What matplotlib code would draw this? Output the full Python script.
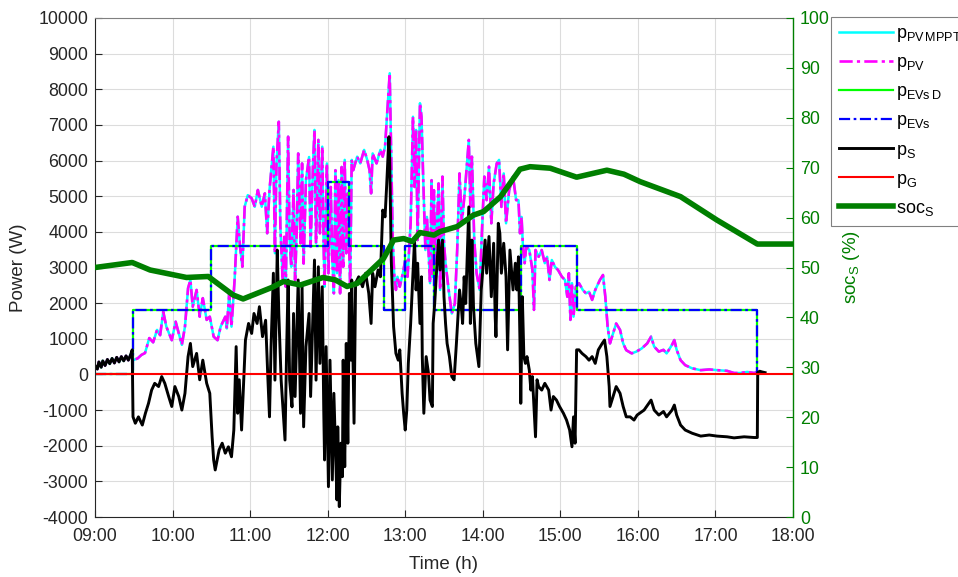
import matplotlib
matplotlib.use("Agg")
import matplotlib.pyplot as plt
from matplotlib.ticker import FixedLocator

plt.rcParams['font.family'] = ['Liberation Sans', 'DejaVu Sans']
plt.rcParams['mathtext.fontset'] = 'custom'
plt.rcParams['mathtext.rm'] = 'Liberation Sans'
plt.rcParams['mathtext.it'] = 'Liberation Sans'
plt.rcParams['mathtext.default'] = 'regular'
plt.rcParams['axes.unicode_minus'] = False

# ---------------- data (time in decimal hours) ----------------
pv_pts = [(9.00, 250), (9.03, 150), (9.05, 350), (9.08, 200), (9.10, 380), (9.13, 250), (9.16, 420),
          (9.19, 300), (9.22, 450), (9.25, 320), (9.28, 480), (9.31, 350), (9.34, 500), (9.37, 380),
          (9.40, 520), (9.43, 400), (9.46, 560), (9.48, 500), (9.49, 400), (9.55, 450), (9.60, 550),
          (9.645, 600), (9.70, 1020), (9.75, 900), (9.80, 1250), (9.84, 1100), (9.88, 1760), (9.92, 1340),
          (9.99, 960), (10.04, 1480), (10.12, 830), (10.16, 1340), (10.20, 2420), (10.23, 2650), (10.26, 1900),
          (10.31, 2370), (10.35, 1620), (10.39, 2140), (10.44, 1530), (10.48, 1620), (10.53, 1060), (10.58, 960),
          (10.62, 1340), (10.68, 1620), (10.70, 1290), (10.73, 2275), (10.76, 1340), (10.80, 2650), (10.84, 4425),
          (10.87, 3585), (10.90, 3020), (10.93, 4705), (10.97, 5030), (11.02, 4940), (11.06, 4705), (11.10, 5175),
          (11.15, 4705), (11.19, 5080), (11.22, 3960), (11.25, 5175), (11.30, 6390), (11.32, 3400), (11.34, 5920),
          (11.37, 7090), (11.39, 4140), (11.42, 2650), (11.44, 3860), (11.46, 2460), (11.49, 6670), (11.51, 3770),
          (11.53, 3020), (11.56, 5175), (11.58, 2650), (11.60, 3960), (11.62, 6200), (11.65, 3680), (11.67, 5920),
          (11.69, 3110), (11.72, 5450), (11.76, 6100), (11.78, 3580), (11.81, 5830), (11.83, 6860), (11.85, 3680),
          (11.88, 6580), (11.90, 3960), (11.93, 6390), (11.95, 3400), (11.96, 2460), (11.99, 5920), (12.01, 2840),
          (12.04, 5260), (12.06, 3210), (12.08, 2275), (12.10, 5730), (12.12, 2840), (12.14, 5450), (12.16, 2275),
          (12.18, 5820), (12.20, 3020), (12.22, 6020), (12.24, 3400), (12.26, 5080), (12.29, 2460), (12.31, 6020),
          (12.33, 5730), (12.38, 6110), (12.42, 5920), (12.47, 6300), (12.51, 6020), (12.54, 5730), (12.56, 5080),
          (12.58, 6200), (12.63, 5920), (12.68, 6300), (12.71, 6110), (12.74, 6390), (12.77, 7420), (12.80, 8450),
          (12.82, 6020), (12.84, 3680), (12.86, 2740), (12.88, 2370), (12.90, 2740), (12.93, 2460), (12.97, 2840),
          (13.00, 3210), (13.03, 2740), (13.07, 4240), (13.10, 7230), (13.12, 5260), (13.14, 6860), (13.16, 3770),
          (13.19, 7610), (13.21, 7230), (13.23, 5640), (13.26, 3490), (13.28, 4420), (13.32, 2560), (13.34, 5450),
          (13.35, 2740), (13.37, 5170), (13.39, 3120), (13.43, 5360), (13.45, 2370), (13.48, 5550), (13.50, 3680),
          (13.52, 3120), (13.56, 2370), (13.60, 1710), (13.64, 1990), (13.67, 3490), (13.70, 5640), (13.73, 4240),
          (13.77, 5170), (13.82, 6580), (13.84, 4700), (13.86, 6110), (13.89, 3770), (13.92, 2840), (13.96, 2370),
          (13.99, 4050), (14.02, 5550), (14.05, 4890), (14.08, 5830), (14.11, 4240), (14.14, 5360), (14.18, 5920),
          (14.21, 6020), (14.24, 4700), (14.27, 5640), (14.30, 4240), (14.34, 5170), (14.39, 5550), (14.43, 4890),
          (14.46, 4890), (14.48, 3960), (14.50, 4420), (14.52, 3490), (14.54, 3120), (14.56, 3590), (14.60, 3490),
          (14.64, 2930), (14.66, 1810), (14.68, 3490), (14.72, 3300), (14.76, 3490), (14.80, 3120), (14.83, 3300),
          (14.86, 2650), (14.89, 3210), (14.93, 3020), (14.97, 2930), (15.02, 2740), (15.06, 2650), (15.09, 2180),
          (15.11, 2840), (15.13, 1530), (15.15, 2560), (15.17, 1620), (15.20, 2460), (15.24, 2560), (15.29, 2370),
          (15.33, 2275), (15.37, 2320), (15.41, 2090), (15.45, 2370), (15.51, 2650), (15.55, 2790), (15.58, 2180),
          (15.61, 1340), (15.64, 870), (15.68, 1150), (15.72, 1430), (15.77, 1250), (15.81, 870), (15.85, 680),
          (15.92, 590), (15.98, 640), (16.05, 730), (16.12, 870), (16.17, 1060), (16.21, 780), (16.27, 640),
          (16.33, 690), (16.37, 590), (16.44, 830), (16.47, 965), (16.50, 690), (16.55, 400), (16.61, 260),
          (16.70, 170), (16.81, 120), (16.92, 140), (17.02, 120), (17.15, 100), (17.24, 40), (17.32, 40),
          (17.41, 70), (17.50, 40), (17.54, 70)]

pv_mppt_pts = pv_pts  # MPPT power coincides with the PV power in the picture

s_pts = [(9.00, 250), (9.03, 150), (9.05, 350), (9.08, 200), (9.10, 380), (9.13, 250), (9.16, 420),
         (9.19, 300), (9.22, 450), (9.25, 320), (9.28, 480), (9.31, 350), (9.34, 500), (9.37, 380),
         (9.40, 520), (9.43, 400), (9.46, 560), (9.48, 690), (9.49, -1190), (9.52, -1370), (9.56, -1190),
         (9.61, -1420), (9.65, -1090), (9.69, -810), (9.73, -440), (9.77, -250), (9.82, -340), (9.86, -60),
         (9.90, -250), (9.95, -620), (9.99, -900), (10.03, -340), (10.08, -620), (10.12, -1000), (10.16, -530),
         (10.20, 500), (10.23, 870), (10.26, 220), (10.31, 590), (10.35, -150), (10.39, 400), (10.44, -250),
         (10.48, -530), (10.51, -1750), (10.53, -2400), (10.55, -2680), (10.60, -2120), (10.64, -1930),
         (10.68, -2210), (10.72, -2030), (10.76, -2310), (10.79, -1560), (10.82, 780), (10.84, -1090),
         (10.86, -150), (10.89, -1560), (10.94, 965), (10.98, 1430), (11.02, 1150), (11.05, 1710), (11.09, 1430),
         (11.12, 1900), (11.16, 1060), (11.20, 1520), (11.23, -160), (11.25, -1190), (11.27, 780), (11.30, 2840),
         (11.32, -160), (11.35, 3490), (11.37, 1710), (11.40, -160), (11.45, -1840), (11.47, 590), (11.49, 2650),
         (11.51, -160), (11.54, -910), (11.56, 1710), (11.58, -620), (11.60, 965), (11.62, 2650), (11.65, -1090),
         (11.67, 2460), (11.69, -1470), (11.72, 780), (11.76, 1710), (11.78, -620), (11.81, 1710), (11.83, 3210),
         (11.85, -160), (11.88, 3020), (11.90, 310), (11.93, 2460), (11.95, -1090), (11.96, -2400), (11.98, 780),
         (12.01, -3150), (12.03, 400), (12.06, -2960), (12.08, -530), (12.12, -3520), (12.13, -1470),
         (12.15, -3710), (12.17, -1930), (12.19, -2870), (12.20, 400), (12.22, -2590), (12.24, 870),
         (12.26, -1930), (12.28, 2275), (12.30, 400), (12.31, 2650), (12.34, -1370), (12.36, 2560), (12.40, 2740),
         (12.45, 2460), (12.49, 2840), (12.53, 2275), (12.56, 1430), (12.58, 2840), (12.61, 2460), (12.65, 2930),
         (12.68, 2740), (12.71, 4610), (12.74, 4420), (12.76, 5270), (12.79, 6670), (12.80, 6020), (12.82, 3210),
         (12.85, 1340), (12.88, 590), (12.91, 400), (12.93, 690), (12.96, -530), (12.98, -1090), (13.00, -1560),
         (13.02, -1000), (13.04, 310), (13.07, 1430), (13.12, 3770), (13.14, 2370), (13.16, 3120), (13.19, 1430),
         (13.21, 2740), (13.22, 500), (13.24, -1090), (13.27, 500), (13.30, 30), (13.32, -720), (13.35, -900),
         (13.36, 1430), (13.38, 1990), (13.41, 3120), (13.43, 3770), (13.45, 2930), (13.48, 3770), (13.50, 2180),
         (13.52, 1430), (13.54, 870), (13.57, 500), (13.60, -60), (13.63, -150), (13.66, 870), (13.68, 1620),
         (13.70, 2370), (13.72, 1990), (13.74, 1430), (13.76, 2740), (13.78, 1990), (13.82, 4700), (13.84, 1430),
         (13.86, 3770), (13.88, 1900), (13.91, 870), (13.95, 220), (13.98, 2370), (14.03, 3770), (14.05, 2840),
         (14.08, 3870), (14.11, 2180), (14.14, 3680), (14.16, 1620), (14.17, 1060), (14.20, 4240), (14.22, 3960),
         (14.24, 2840), (14.27, 3680), (14.30, 2740), (14.32, 690), (14.35, 3490), (14.39, 2370), (14.42, 3120),
         (14.44, 2370), (14.46, 3300), (14.48, 870), (14.49, -810), (14.51, 2180), (14.53, 500), (14.55, 310),
         (14.57, 500), (14.60, 120), (14.62, -440), (14.64, -60), (14.68, -1750), (14.70, -150), (14.72, -340),
         (14.76, -440), (14.80, -250), (14.85, -440), (14.88, -1000), (14.91, -620), (14.95, -720), (14.99, -900),
         (15.04, -1090), (15.08, -1280), (15.12, -1560), (15.15, -2030), (15.17, -1190), (15.19, -1930),
         (15.21, 690), (15.24, 690), (15.28, 590), (15.33, 500), (15.37, 400), (15.41, 500), (15.45, 310),
         (15.49, 690), (15.54, 870), (15.57, 965), (15.60, 500), (15.63, -340), (15.64, -900), (15.68, -620),
         (15.72, -340), (15.77, -530), (15.81, -900), (15.85, -1190), (15.90, -1190), (15.95, -1280),
         (15.99, -1140), (16.08, -1000), (16.14, -810), (16.17, -720), (16.21, -1000), (16.27, -1140),
         (16.33, -1040), (16.37, -1190), (16.44, -1000), (16.47, -860), (16.50, -1140), (16.55, -1420),
         (16.61, -1560), (16.70, -1650), (16.81, -1730), (16.92, -1700), (17.02, -1730), (17.15, -1750),
         (17.24, -1780), (17.37, -1750), (17.50, -1770), (17.54, -1770), (17.545, 50), (17.57, 90),
         (17.60, 70), (17.64, 50)]

ev_pts = [(9.00, 0), (9.49, 1800), (10.49, 3600), (12.00, 5400), (12.27, 3600), (12.72, 1800),
          (13.00, 3600), (13.37, 1800), (14.49, 3600), (15.22, 1800), (17.54, 0), (17.56, 0)]
ev_d_pts = ev_pts  # demanded EV power coincides with the EV power

g_pts = [(9.00, 0), (18.00, 0)]

soc_pts = [(9.00, 50.0), (9.48, 51.0), (9.71, 49.5), (10.18, 48.0), (10.46, 48.2), (10.78, 44.5),
           (10.91, 43.7), (11.28, 46.0), (11.43, 47.2), (11.65, 46.5), (11.94, 48.0), (12.10, 47.5),
           (12.25, 46.2), (12.38, 46.8), (12.72, 51.8), (12.85, 55.5), (12.98, 55.8), (13.09, 55.2),
           (13.19, 57.0), (13.37, 56.5), (13.45, 57.2), (13.67, 58.2), (13.88, 60.5), (14.01, 61.2),
           (14.23, 64.2), (14.48, 69.7), (14.61, 70.2), (14.87, 69.9), (15.21, 68.1), (15.60, 69.5),
           (15.82, 68.7), (16.03, 67.2), (16.55, 64.2), (17.02, 59.5), (17.54, 54.7), (18.00, 54.7)]

x_ticks = [9, 10, 11, 12, 13, 14, 15, 16, 17, 18]
x_tick_labels = ['09:00', '10:00', '11:00', '12:00', '13:00', '14:00', '15:00', '16:00', '17:00', '18:00']
y_ticks = list(range(-4000, 10001, 1000))
soc_ticks = list(range(0, 101, 10))

labels = [r'p$_{PV\,MPPT}$', r'p$_{PV}$', r'p$_{EVs\,D}$', r'p$_{EVs}$', r'p$_{S}$', r'p$_{G}$', r'soc$_{S}$']


def unzip(pts):
    return [p[0] for p in pts], [p[1] for p in pts]


# ---------------- figure ----------------
fig = plt.figure(figsize=(9.58, 5.77), dpi=100)
ax = fig.add_axes([95 / 958, 60 / 577, 698 / 958, 499 / 577])
ax2 = ax.twinx()

grid_c = '#dcdcdc'
ax.grid(True, color=grid_c, linewidth=0.8)
ax.set_axisbelow(True)

dashdot = (0, (5, 1.6, 1.2, 1.6))
h = []
t, v = unzip(pv_mppt_pts)
h += ax.plot(t, v, color='#00ffff', lw=1.8)
t, v = unzip(pv_pts)
h += ax.plot(t, v, color='#ff00ff', lw=1.9, linestyle=dashdot)
t, v = unzip(ev_d_pts)
h += ax.plot(t, v, color='#00ff00', lw=1.6, drawstyle='steps-post')
t, v = unzip(ev_pts)
h += ax.plot(t, v, color='#0000ff', lw=1.6, drawstyle='steps-post', linestyle=dashdot)
t, v = unzip(s_pts)
h += ax.plot(t, v, color='black', lw=2.1)
t, v = unzip(g_pts)
h += ax.plot(t, v, color='#ff0000', lw=1.5)
t, v = unzip(soc_pts)
h += ax2.plot(t, v, color='#007f00', lw=4.0)

ax.set_xlim(9, 18)
ax.set_ylim(-4000, 10000)
ax2.set_ylim(0, 100)
ax.xaxis.set_major_locator(FixedLocator(x_ticks))
ax.set_xticklabels(x_tick_labels)
ax.yaxis.set_major_locator(FixedLocator(y_ticks))
ax2.yaxis.set_major_locator(FixedLocator(soc_ticks))

ax.tick_params(axis='both', direction='in', labelsize=12.8, colors='#262626', length=5, width=0.8, top=False)
ax.tick_params(axis='x', pad=8)
ax.tick_params(axis='y', pad=5)
ax2.tick_params(axis='y', direction='in', labelsize=12.8, colors='#007f00', length=5, width=0.8, pad=5)

for s in ['left', 'bottom', 'top']:
    ax.spines[s].set_color('#262626')
    ax.spines[s].set_linewidth(0.8)
ax.spines['top'].set_color('#808080')
ax2.spines['right'].set_color('#007f00')
ax2.spines['right'].set_linewidth(1.0)
for s in ['left', 'bottom', 'top']:
    ax2.spines[s].set_visible(False)
ax.spines['right'].set_visible(False)

ax.set_xlabel('Time (h)', fontsize=13.5, color='#262626', labelpad=8)
ax.set_ylabel('Power (W)', fontsize=13.5, color='#262626', labelpad=8)
ax2.set_ylabel(r'soc$_{S}$ (%)', fontsize=13.5, color='#007f00', labelpad=8)

leg = ax2.legend(h, labels, loc='upper left', bbox_to_anchor=(1.054, 1.002), fontsize=13,
                 frameon=True, fancybox=False, edgecolor='#808080', framealpha=1.0,
                 handlelength=3.0, handletextpad=0.15, labelspacing=0.56, borderpad=0.45,
                 borderaxespad=0.0)
leg.get_frame().set_linewidth(0.8)

fig.savefig('out.png', dpi=100)
